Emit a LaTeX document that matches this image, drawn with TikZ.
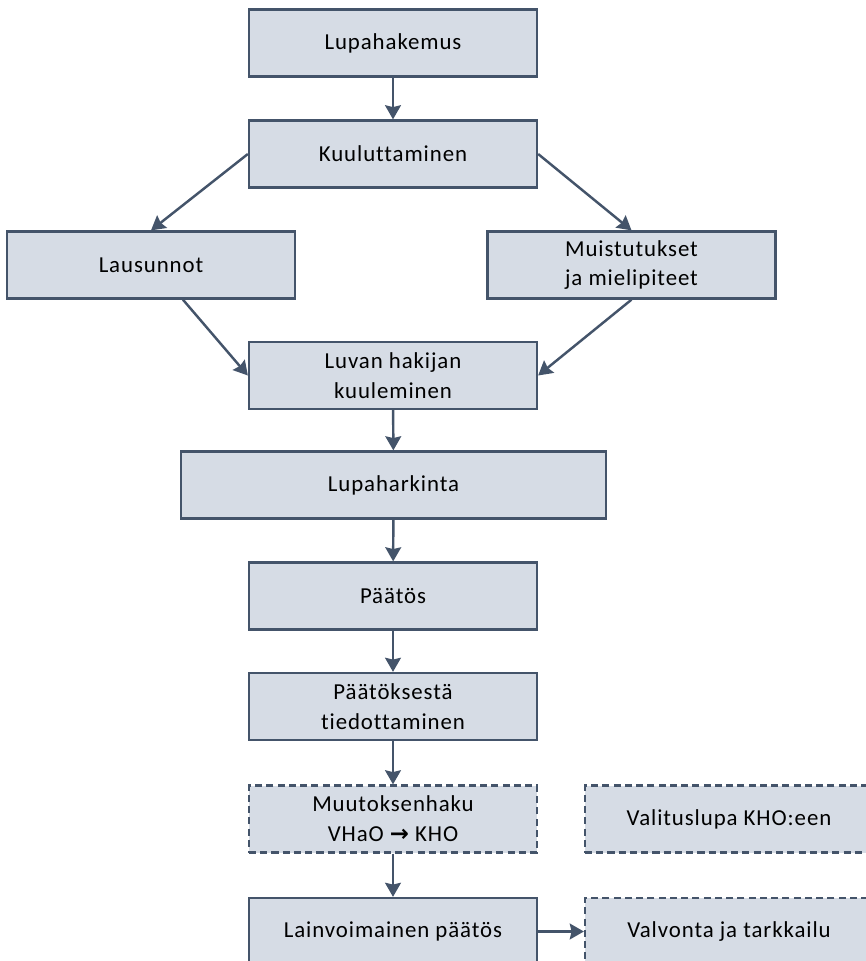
\documentclass[tikz,border=0pt]{standalone}
\usepackage{fontspec}
\setmainfont[LetterSpace=4,Ligatures={NoCommon}]{Carlito}
\newfontfamily\symfont{DejaVu Sans Bold}
\usetikzlibrary{arrows.meta,calc}

\definecolor{boxfill}{HTML}{D6DCE5}
\definecolor{boxline}{HTML}{44546A}

\tikzset{
  box/.style={draw=boxline,fill=boxfill,line width=1.3pt,minimum width=5.76cm,minimum height=1.34cm,align=center,font=\fontsize{13}{17}\selectfont,inner sep=0pt},
  dbox/.style={box,dash pattern=on 4pt off 2.4pt},
  flow/.style={draw=boxline,line width=1.4pt,-{Stealth[length=8pt,width=9pt,inset=1pt]}}
}

\begin{document}
\begin{tikzpicture}
\useasboundingbox (0,0) rectangle (17.32,-19.22);

%main column
\node[box] (lupa) at (7.86,-0.86) {Lupahakemus};
\node[box] (kuul) at (7.86,-3.08) {Kuuluttaminen};
\node[box] (laus) at (3.02,-5.30) {Lausunnot};
\node[box] (muis) at (12.63,-5.30) {Muistutukset\\ja mielipiteet};
\node[box] (luvan) at (7.86,-7.51) {Luvan hakijan\\kuuleminen};
\node[box,minimum width=8.5cm] (hark) at (7.87,-9.70) {Lupaharkinta};
\node[box] (paat) at (7.86,-11.92) {Päätös};
\node[box] (tied) at (7.86,-14.13) {Päätöksestä\\tiedottaminen};

%dashed = optional steps
\node[dbox] (muut) at (7.86,-16.38) {Muutoksenhaku\\VHaO {\symfont\fontsize{13}{13}\selectfont→} KHO};
\node[dbox] (valit) at (14.58,-16.38) {Valituslupa KHO:een};
\node[box] (lainv) at (7.86,-18.63) {Lainvoimainen päätös};
\node[dbox] (valv) at (14.58,-18.63) {Valvonta ja tarkkailu};

\draw[flow] (lupa) -- (kuul);
\draw[flow] (kuul.west) -- (laus.north);
\draw[flow] (kuul.east) -- (muis.north);
\draw[flow] ($(laus.south west)!0.61!(laus.south east)$) -- (luvan.west);
\draw[flow] (muis.south) -- (luvan.east);
\draw[flow] (luvan) -- (hark);
\draw[flow] (hark) -- (paat);
\draw[flow] (paat) -- (tied);
\draw[flow] (tied) -- (muut);
\draw[flow] (muut) -- (lainv);
\draw[flow] (lainv) -- (valv);
\end{tikzpicture}
\end{document}
